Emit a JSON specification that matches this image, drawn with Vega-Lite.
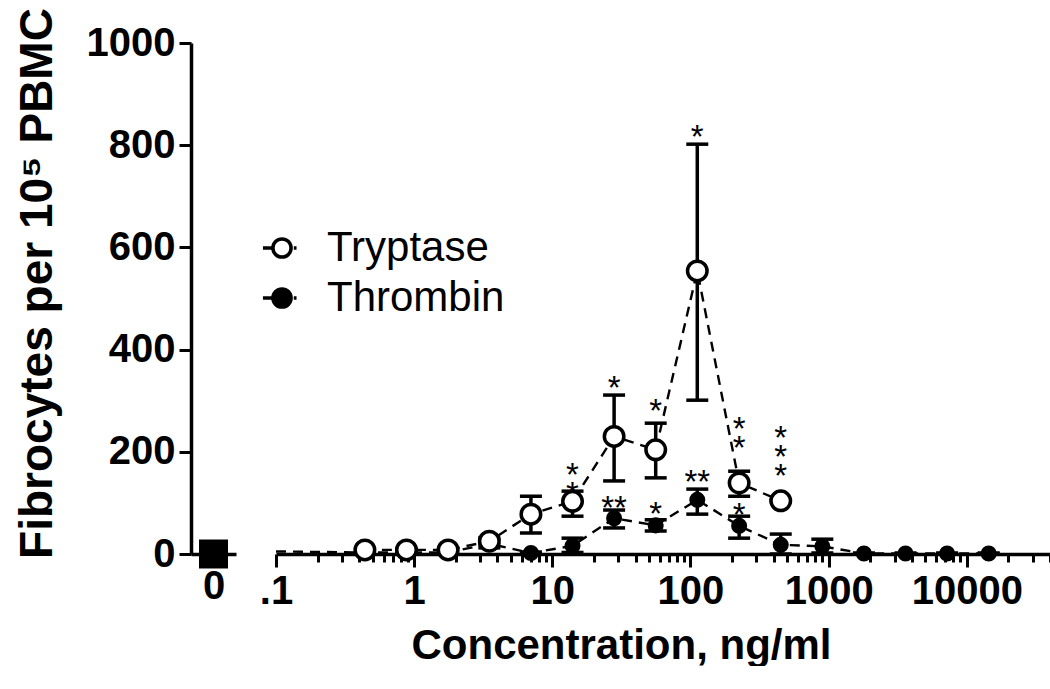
{
  "$schema": "https://vega.github.io/schema/vega-lite/v6.json",
  "padding": {"left": 14, "top": 7, "right": 0, "bottom": 0},
  "background": "white",
  "spacing": 23,
  "config": {
    "view": {"stroke": null},
    "font": "Liberation Sans",
    "axis": {
      "domainColor": "black", "domainWidth": 3.5, "tickColor": "black", "tickWidth": 3,
      "labelColor": "black", "labelFont": "Liberation Sans", "labelFontWeight": "bold", "labelFontSize": 40,
      "titleFont": "Liberation Sans", "titleFontWeight": "bold", "titleColor": "black", "grid": false
    }
  },
  "datasets": {
    "zero": [{"dose": "0", "value": 0}],
    "main": [
      {"series": "Tryptase", "dose": 0.44, "value": 8, "lo": 5, "hi": 11},
      {"series": "Tryptase", "dose": 0.88, "value": 8, "lo": 5, "hi": 11},
      {"series": "Tryptase", "dose": 1.76, "value": 8, "lo": 5, "hi": 11},
      {"series": "Tryptase", "dose": 3.5, "value": 25, "lo": 18, "hi": 32},
      {"series": "Tryptase", "dose": 7, "value": 78, "lo": 41, "hi": 113},
      {"series": "Tryptase", "dose": 14, "value": 103, "lo": 74, "hi": 123},
      {"series": "Tryptase", "dose": 28, "value": 230, "lo": 143, "hi": 311},
      {"series": "Tryptase", "dose": 56, "value": 204, "lo": 149, "hi": 256},
      {"series": "Tryptase", "dose": 112, "value": 554, "lo": 301, "hi": 802},
      {"series": "Tryptase", "dose": 225, "value": 139, "lo": 113, "hi": 162},
      {"series": "Tryptase", "dose": 450, "value": 104, "lo": 102, "hi": 106},
      {"series": "Thrombin", "dose": 0.1, "value": 5, "lo": 5, "hi": 5},
      {"series": "Thrombin", "dose": 0.44, "value": 3, "lo": 1, "hi": 5},
      {"series": "Thrombin", "dose": 0.88, "value": 3, "lo": 1, "hi": 5},
      {"series": "Thrombin", "dose": 1.76, "value": 3, "lo": 1, "hi": 5},
      {"series": "Thrombin", "dose": 3.5, "value": 20, "lo": 12, "hi": 28},
      {"series": "Thrombin", "dose": 7, "value": 2, "lo": 0, "hi": 4},
      {"series": "Thrombin", "dose": 14, "value": 16, "lo": 3, "hi": 31},
      {"series": "Thrombin", "dose": 28, "value": 70, "lo": 51, "hi": 86},
      {"series": "Thrombin", "dose": 56, "value": 56, "lo": 45, "hi": 67},
      {"series": "Thrombin", "dose": 112, "value": 106, "lo": 78, "hi": 127},
      {"series": "Thrombin", "dose": 225, "value": 55, "lo": 31, "hi": 74},
      {"series": "Thrombin", "dose": 450, "value": 18, "lo": 0, "hi": 39},
      {"series": "Thrombin", "dose": 900, "value": 15, "lo": 2, "hi": 29},
      {"series": "Thrombin", "dose": 1800, "value": 1, "lo": 0, "hi": 2},
      {"series": "Thrombin", "dose": 3600, "value": 1, "lo": 0, "hi": 2},
      {"series": "Thrombin", "dose": 7200, "value": 1, "lo": 0, "hi": 2},
      {"series": "Thrombin", "dose": 14400, "value": 1, "lo": 0, "hi": 2}
    ],
    "stars": [
      {"dose": 14, "pos": 170, "label": "*\n*"},
      {"dose": 28, "pos": 340, "label": "*"},
      {"dose": 56, "pos": 295, "label": "*"},
      {"dose": 112, "pos": 832, "label": "*"},
      {"dose": 225, "pos": 261, "label": "*\n*"},
      {"dose": 450, "pos": 243, "label": "*\n*\n*"},
      {"dose": 28, "pos": 106, "label": "**"},
      {"dose": 56, "pos": 94, "label": "*"},
      {"dose": 112, "pos": 157, "label": "**"},
      {"dose": 225, "pos": 92, "label": "*"}
    ]
  },
  "hconcat": [
    {
      "width": 45,
      "height": 511,
      "data": {"name": "zero"},
      "mark": {"type": "point", "shape": "square", "filled": true, "color": "black", "size": 840, "opacity": 1},
      "encoding": {
        "x": {"field": "dose", "type": "nominal", "scale": {"type": "point", "padding": 0.5},
              "axis": {"title": null, "labelAngle": 0, "ticks": false, "labelPadding": 12}},
        "y": {"field": "value", "type": "quantitative", "scale": {"domain": [0, 1000]},
              "axis": {"values": [0, 200, 400, 600, 800, 1000], "format": "d", "title": "Fibrocytes per 10⁵ PBMC",
                       "titleFontSize": 46, "titleY": 240, "titlePadding": 25, "tickSize": 12, "labelPadding": 4}}
      }
    },
    {
      "width": 774,
      "height": 511,
      "layer": [
        {
          "data": {"name": "main"},
          "mark": {"type": "line", "color": "black", "strokeWidth": 2.4, "strokeDash": [10, 7]},
          "encoding": {
            "x": {"field": "dose", "type": "quantitative",
                  "scale": {"type": "log", "domain": [0.1, 40000], "nice": false},
                  "axis": {
                    "title": "Concentration, ng/ml", "titleFontSize": 42, "titlePadding": 14, "titleX": 345,
                    "values": [0.1,0.2,0.3,0.4,0.5,0.6,0.7,0.8,0.9,1,2,3,4,5,6,7,8,9,10,20,30,40,50,60,70,80,90,100,200,300,400,500,600,700,800,900,1000,2000,3000,4000,5000,6000,7000,8000,9000,10000,20000,30000,40000],
                    "labelExpr": "datum.value == 0.1 ? '.1' : (indexof([1,10,100,1000,10000], datum.value) >= 0 ? format(datum.value, 'd') : '')",
                    "labelOverlap": false, "labelFlush": false, "labelBound": false, "labelPadding": 4,
                    "tickSize": {"condition": {"test": "indexof([0.1,1,10,100,1000,10000], datum.value) >= 0", "value": 13}, "value": 8}
                  }},
            "y": {"field": "value", "type": "quantitative", "scale": {"domain": [0, 1000]}, "axis": null},
            "detail": {"field": "series"}
          }
        },
        {
          "data": {"name": "main"},
          "transform": [{"filter": "datum.dose > 0.2"}],
          "mark": {"type": "errorbar", "ticks": {"size": 22, "thickness": 3.5, "color": "black", "opacity": 1}, "rule": {"strokeWidth": 3.5, "color": "black", "opacity": 1}},
          "encoding": {
            "x": {"field": "dose", "type": "quantitative"},
            "y": {"field": "lo", "type": "quantitative"},
            "y2": {"field": "hi"},
            "detail": {"field": "series"}
          }
        },
        {
          "data": {"name": "main"},
          "transform": [{"filter": "datum.dose > 0.2 && datum.series == 'Thrombin'"}],
          "mark": {"type": "point", "shape": "circle", "filled": true, "color": "black", "stroke": "black", "strokeWidth": 3, "opacity": 1, "size": 170},
          "encoding": {
            "x": {"field": "dose", "type": "quantitative"},
            "y": {"field": "value", "type": "quantitative"}
          }
        },
        {
          "data": {"name": "main"},
          "transform": [{"filter": "datum.series == 'Tryptase'"}],
          "mark": {"type": "point", "shape": "circle", "filled": true, "stroke": "black", "strokeWidth": 3.5, "opacity": 1, "size": 380},
          "encoding": {
            "x": {"field": "dose", "type": "quantitative"},
            "y": {"field": "value", "type": "quantitative"},
            "fill": {"field": "series", "type": "nominal",
                     "scale": {"domain": ["Tryptase", "Thrombin"], "range": ["white", "black"]},
                     "legend": {"title": null, "orient": "none", "legendX": 70, "legendY": 184,
                                "symbolType": "M-2.1,0H-1M1.3,0H1.6M-1,0A1,1,0,1,1,1,0A1,1,0,1,1,-1,0Z",
                                "symbolSize": 330, "symbolStrokeWidth": 3.5, "symbolStrokeColor": "black",
                                "labelFont": "Liberation Sans", "labelFontSize": 42, "labelColor": "black",
                                "labelLimit": 600, "labelOffset": 24, "rowPadding": 8}}
          }
        },
        {
          "data": {"name": "stars"},
          "mark": {"type": "text", "fontSize": 33, "font": "Liberation Sans", "color": "black", "baseline": "middle", "lineBreak": "\n", "lineHeight": 19, "dy": 9},
          "encoding": {
            "x": {"field": "dose", "type": "quantitative"},
            "y": {"field": "pos", "type": "quantitative"},
            "text": {"field": "label"}
          }
        }
      ]
    }
  ]
}
